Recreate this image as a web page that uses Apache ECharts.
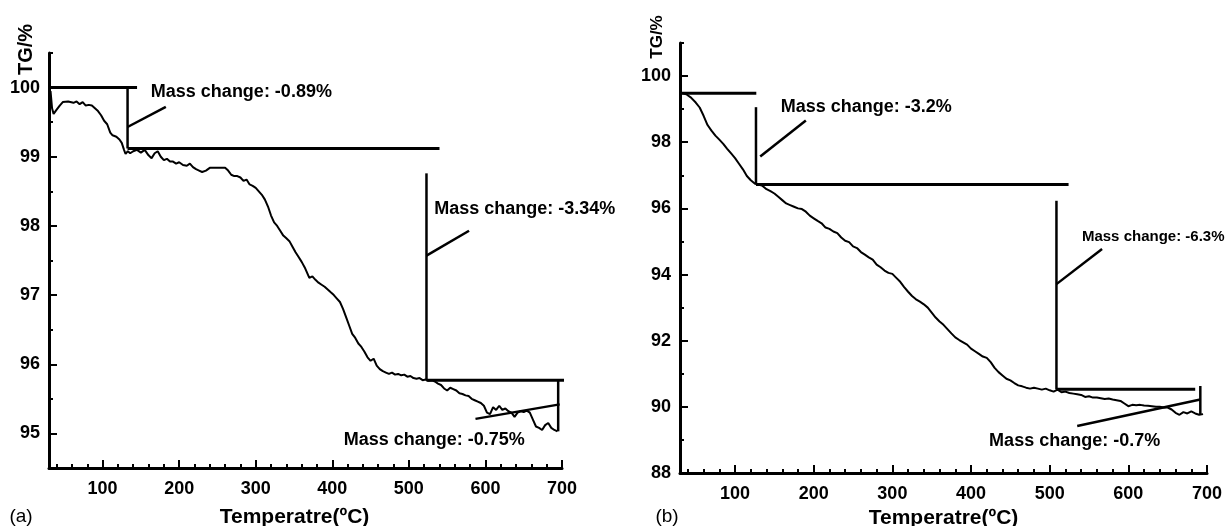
<!DOCTYPE html>
<html>
<head>
<meta charset="utf-8">
<script src="https://cdn.jsdelivr.net/npm/echarts@6/dist/echarts.min.js"></script>
<style>
html,body{margin:0;padding:0;background:#fff;}
#c{width:1231px;height:526px;}
</style>
</head>
<body>
<div id="c"></div>
<script>
// ---------- DATA ----------
const xMajorTicks = [100, 200, 300, 400, 500, 600, 700];
const xMinorTicks = [40,60,80,120,140,160,180,220,240,260,280,320,340,360,380,420,440,460,480,520,540,560,580,620,640,660,680];
const yMajorTicksA = [95, 96, 97, 98, 99, 100];
const yMinorTicksA = [95.5, 96.5, 97.5, 98.5, 99.5, 100.5];
const yMajorTicksB = [88, 90, 92, 94, 96, 98, 100];
const yMinorTicksB = [89, 91, 93, 95, 97, 99, 101];

// Sample (a): temperature (ºC), TG (%)
const curveA = [
[32,99.95],[34,99.70],[36,99.62],[40,99.68],[44,99.74],[48,99.79],[55,99.80],[62,99.78],[66,99.80],[70,99.76],
[74,99.79],[78,99.74],[82,99.75],[86,99.74],[90,99.70],[94,99.66],[98,99.60],[102,99.52],[106,99.47],[110,99.35],
[113,99.31],[118,99.29],[122,99.25],[125,99.20],[128,99.10],[130,99.04],[133,99.08],[136,99.05],[140,99.08],[145,99.10],
[150,99.06],[155,99.10],[160,99.02],[164,98.98],[168,99.05],[172,99.08],[176,99.00],[180,98.95],[184,98.97],[188,98.93],
[192,98.93],[196,98.90],[200,98.92],[205,98.88],[210,98.87],[214,98.90],[218,98.85],[222,98.82],[226,98.80],[230,98.78],
[235,98.80],[240,98.84],[245,98.84],[250,98.84],[255,98.84],[260,98.84],[264,98.80],[268,98.74],[272,98.72],[276,98.72],
[280,98.70],[284,98.65],[288,98.67],[292,98.60],[296,98.58],[300,98.55],[304,98.50],[308,98.45],[312,98.38],[316,98.28],
[320,98.15],[324,98.05],[328,98.00],[332,97.93],[336,97.86],[340,97.82],[344,97.78],[348,97.70],[352,97.62],[356,97.55],
[360,97.48],[364,97.40],[368,97.30],[370,97.25],[374,97.27],[378,97.22],[382,97.18],[386,97.15],[390,97.12],[394,97.08],
[398,97.04],[402,97.00],[406,96.95],[410,96.90],[414,96.80],[418,96.68],[422,96.56],[426,96.44],[430,96.38],[434,96.30],
[438,96.25],[442,96.18],[446,96.10],[450,96.05],[454,96.08],[458,95.98],[462,95.93],[466,95.90],[470,95.88],[474,95.86],
[478,95.88],[482,95.85],[486,95.86],[490,95.84],[494,95.85],[498,95.82],[502,95.83],[506,95.80],[510,95.79],[514,95.80],
[518,95.77],[522,95.78],[526,95.76],[530,95.77],[534,95.75],[538,95.72],[542,95.70],[546,95.65],[550,95.62],[554,95.66],
[558,95.64],[562,95.62],[566,95.58],[570,95.57],[574,95.55],[578,95.54],[582,95.50],[586,95.48],[590,95.46],[594,95.44],
[598,95.40],[602,95.30],[606,95.28],[610,95.38],[614,95.34],[618,95.40],[622,95.34],[626,95.36],[630,95.32],[634,95.30],
[638,95.24],[642,95.30],[646,95.32],[650,95.31],[654,95.33],[658,95.30],[662,95.20],[666,95.10],[670,95.08],[674,95.05],
[678,95.12],[682,95.15],[686,95.08],[690,95.05],[694,95.03]
];

// Sample (b)
const curveB = [
[33,99.48],[38,99.45],[44,99.35],[50,99.20],[55,99.05],[60,98.80],[65,98.52],[70,98.35],[75,98.20],[80,98.08],
[85,97.95],[90,97.80],[95,97.66],[100,97.52],[105,97.35],[110,97.18],[115,96.98],[120,96.85],[125,96.75],[130,96.72],
[135,96.68],[140,96.58],[145,96.52],[150,96.45],[155,96.35],[160,96.25],[165,96.15],[170,96.10],[175,96.05],[180,96.00],
[185,95.98],[190,95.90],[195,95.78],[200,95.70],[205,95.62],[210,95.55],[215,95.42],[220,95.38],[225,95.30],[230,95.25],
[235,95.12],[240,95.02],[245,94.98],[250,94.85],[255,94.80],[260,94.68],[265,94.60],[270,94.52],[275,94.45],[280,94.30],
[285,94.22],[290,94.12],[295,94.05],[300,94.02],[305,93.90],[310,93.78],[315,93.62],[320,93.48],[325,93.35],[330,93.25],
[335,93.18],[340,93.10],[345,93.00],[350,92.85],[355,92.70],[360,92.58],[365,92.48],[370,92.35],[375,92.22],[380,92.10],
[385,92.02],[390,91.95],[395,91.88],[400,91.76],[405,91.68],[410,91.60],[415,91.52],[420,91.48],[425,91.35],[430,91.18],
[435,91.05],[440,90.95],[445,90.85],[450,90.80],[455,90.72],[460,90.65],[465,90.62],[470,90.58],[475,90.55],[480,90.58],
[485,90.55],[490,90.52],[495,90.55],[500,90.50],[505,90.46],[510,90.52],[515,90.44],[520,90.46],[525,90.42],[530,90.40],
[535,90.38],[540,90.36],[545,90.30],[550,90.32],[555,90.28],[560,90.28],[565,90.26],[570,90.24],[575,90.25],[580,90.22],
[585,90.20],[590,90.18],[595,90.10],[600,90.02],[605,90.06],[610,90.05],[615,90.06],[620,90.04],[625,90.03],[630,90.02],
[635,90.00],[640,90.00],[645,89.98],[650,89.98],[655,89.92],[660,89.82],[665,89.76],[670,89.84],[675,89.80],[680,89.86],
[685,89.80],[690,89.76],[695,89.78]
];

// Annotation segments (data coordinates)
const guideLinesA = [
  [[30,100.0],[145,100.0]],
  [[132.6,100.0],[132.6,99.12]],
  [[132.6,99.12],[540,99.12]],
  [[132.6,99.43],[182.6,99.72]],
  [[523,98.76],[523,95.77]],
  [[523,95.77],[709,95.77]],
  [[523,97.57],[578.6,97.93]],
  [[695,95.77],[695,95.03]],
  [[587,95.21],[697,95.42]]
];
const guideLinesB = [
  [[30,99.48],[127,99.48]],
  [[126.6,99.06],[126.6,96.72]],
  [[126.6,96.72],[524,96.72]],
  [[132,97.57],[190,98.66]],
  [[508.6,96.23],[508.6,90.53]],
  [[508.6,90.53],[685,90.53]],
  [[508.6,93.71],[566.6,94.77]],
  [[691.5,90.63],[691.5,89.77]],
  [[535,89.42],[691.5,90.22]]
];
const notesA = [
  {text:'Mass change: -0.89%', at:[163,99.94], size:18},
  {text:'Mass change: -3.34%', at:[533,98.24], size:18},
  {text:'Mass change: -0.75%', at:[415,94.91], size:18}
];
const notesB = [
  {text:'Mass change: -3.2%', at:[158,99.06], size:18},
  {text:'Mass change: -6.3%', at:[541,95.14], size:15},
  {text:'Mass change: -0.7%', at:[423,88.96], size:18}
];

// ---------- CHART ----------
const FONT = '"Liberation Sans", Arial, sans-serif';
const chart = echarts.init(document.getElementById('c'), null, {renderer:'canvas'});

function xAxes(grid, nameShift, nameGap){
  return [{
    gridIndex: grid, type:'value', min:30, max:700, position:'bottom',
    axisLine:{onZero:false, lineStyle:{color:'#000', width:3}},
    axisTick:{inside:true, length:8, lineStyle:{color:'#000', width:2}, customValues:xMajorTicks},
    axisLabel:{customValues:xMajorTicks, color:'#000', fontSize:18, fontWeight:'bold', fontFamily:FONT, margin:12},
    splitLine:{show:false},
    name:'Temperatre(ºC)', nameLocation:'middle', nameGap:nameGap,
    nameTextStyle:{color:'#000', fontSize:21, fontWeight:'bold', fontFamily:FONT, padding:[0,nameShift,0,0]}
  },{
    gridIndex: grid, type:'value', min:30, max:700, position:'bottom',
    axisLine:{show:false, onZero:false},
    axisTick:{inside:true, length:4, lineStyle:{color:'#000', width:2}, customValues:xMinorTicks},
    axisLabel:{show:false}, splitLine:{show:false}
  }];
}
function yAxes(grid, min, max, major, minor){
  return [{
    gridIndex: grid, type:'value', min:min, max:max, position:'left',
    axisLine:{show:true, onZero:false, lineStyle:{color:'#000', width:3}},
    axisTick:{show:true, inside:true, length:8, lineStyle:{color:'#000', width:2}, customValues:major},
    axisLabel:{customValues:major, color:'#000', fontSize:18, fontWeight:'bold', fontFamily:FONT, margin:9},
    splitLine:{show:false}
  },{
    gridIndex: grid, type:'value', min:min, max:max, position:'left',
    axisLine:{show:false, onZero:false},
    axisTick:{show:true, inside:true, length:4, lineStyle:{color:'#000', width:2}, customValues:minor},
    axisLabel:{show:false}, splitLine:{show:false}
  }];
}

const series = [];
function addPanel(curve, guides, notes, xi, yi){
  series.push({type:'line', xAxisIndex:xi, yAxisIndex:yi, data:curve, showSymbol:false, symbol:'none',
    lineStyle:{color:'#000', width:2}, animation:false, z:3});
  guides.forEach(function(seg){
    const horiz = seg[0][1] === seg[1][1];
    series.push({type:'line', xAxisIndex:xi, yAxisIndex:yi, data:seg, showSymbol:false, symbol:'none', clip:false,
      lineStyle:{color:'#000', width: horiz ? 3 : 2.5}, animation:false, z:4});
  });
  series.push({type:'scatter', xAxisIndex:xi, yAxisIndex:yi, symbolSize:2, clip:false,
    itemStyle:{color:'#000', opacity:1}, animation:false, z:5,
    labelLayout:{hideOverlap:false},
    label:{show:true, position:'right', distance:0, color:'#000', opacity:1, textBorderWidth:0,
      fontWeight:'bold', fontFamily:FONT,
      formatter:function(p){ return p.name; }},
    data: notes.map(function(n){ return {value:n.at, name:n.text, symbolSize:0,
      label:{fontSize:n.size, color:'#000'}}; })
  });
}
addPanel(curveA, guideLinesA, notesA, 0, 0);
addPanel(curveB, guideLinesB, notesB, 2, 2);

const option = {
  backgroundColor:'#fff',
  animation:false,
  grid:[
    {left:49, top:53, width:513, height:415, outerBoundsMode:'none', containLabel:false},
    {left:680, top:43, width:527, height:430, outerBoundsMode:'none', containLabel:false}
  ],
  xAxis: xAxes(0, 22, 39).concat(xAxes(1, 0, 34)),
  yAxis: yAxes(0, 94.5, 100.5, yMajorTicksA, yMinorTicksA).concat(yAxes(1, 88, 101, yMajorTicksB, yMinorTicksB)),
  series: series,
  graphic:[
    {type:'text', x:26.5, y:49.5, rotation:Math.PI/2,
      style:{text:'TG/%', fill:'#000', font:'bold 20px ' + FONT, textAlign:'center', textVerticalAlign:'middle'}},
    {type:'text', x:657, y:37, rotation:Math.PI/2,
      style:{text:'TG/%', fill:'#000', font:'bold 17px ' + FONT, textAlign:'center', textVerticalAlign:'middle'}},
    {type:'text', x:21, y:517,
      style:{text:'(a)', fill:'#000', font:'19px ' + FONT, textAlign:'center', textVerticalAlign:'middle'}},
    {type:'text', x:667, y:517,
      style:{text:'(b)', fill:'#000', font:'19px ' + FONT, textAlign:'center', textVerticalAlign:'middle'}}
  ]
};
chart.setOption(option);
</script>
</body>
</html>
